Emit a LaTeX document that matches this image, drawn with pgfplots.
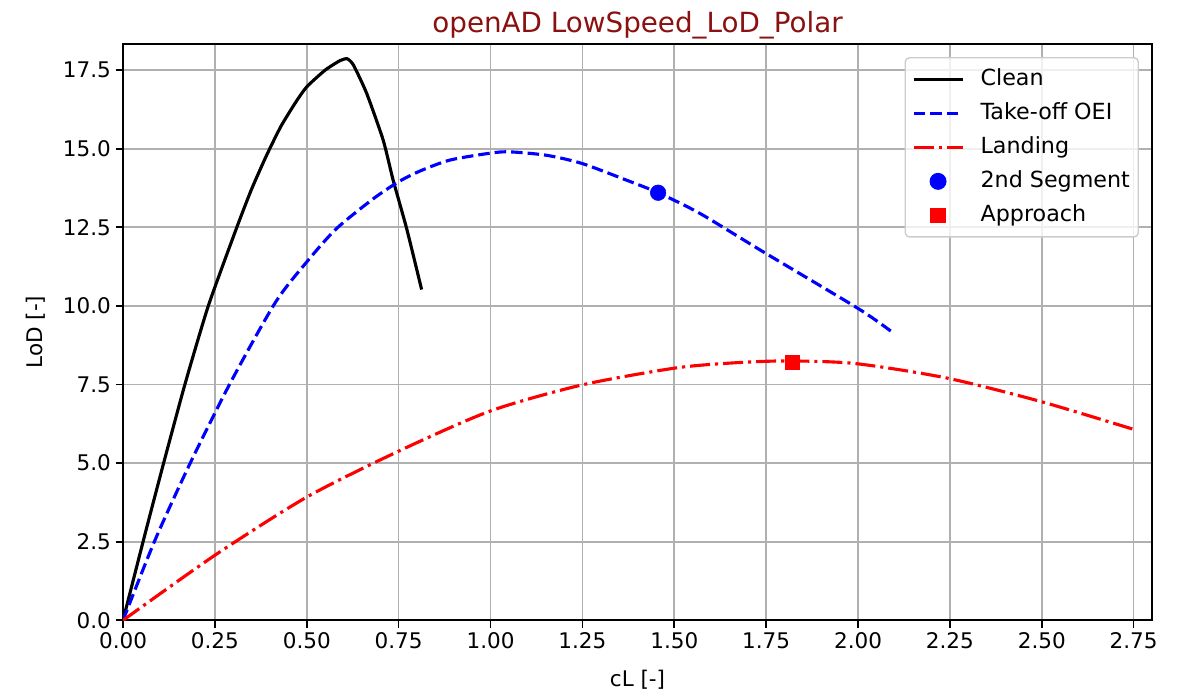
\documentclass[border=0pt]{standalone}
\usepackage{pgfplots}
\pgfplotsset{compat=1.18}
\usepackage{fontspec}
\setmainfont{DejaVu Sans}
\definecolor{ttl}{HTML}{8B1010}
\definecolor{gridc}{HTML}{B0B0B0}
\begin{document}
\begin{tikzpicture}
\begin{axis}[
  scale only axis,
  width=741pt, height=415pt,
  xmin=0, xmax=2.80, ymin=0, ymax=18.33,
  xtick={0,0.25,...,2.76}, ytick={0,2.5,...,17.6},
  xticklabel style={/pgf/number format/.cd,fixed,fixed zerofill,precision=2},
  yticklabel style={/pgf/number format/.cd,fixed,fixed zerofill,precision=1},
  /pgf/number format/assume math mode=true,
  tick label style={font=\fontsize{15.5}{18}\selectfont},
  label style={font=\fontsize{15.5}{18}\selectfont},
  tick align=outside, major tick length=5.25pt,
  xtick pos=lower, ytick pos=left,
  axis line style={line width=1.2pt},
  every tick/.style={black, line width=1.2pt},
  grid=major, major grid style={gridc, line width=1.2pt},
  title={openAD LowSpeed\_LoD\_Polar},
  title style={font=\fontsize{20}{24}\selectfont, text=ttl, yshift=-6pt},
  xlabel={cL [-]}, ylabel={LoD [-]},
  xlabel shift=8.6pt, ylabel shift=5.8pt,
  legend cell align=left,
  legend style={at={(1,1)}, anchor=north east, xshift=-9.4pt, yshift=-9.4pt,
    draw=gray!40, line width=1pt, rounded corners=3pt,
    fill=white, fill opacity=0.8, text opacity=1, font=\fontsize{16}{19}\selectfont,
    row sep=6.5pt, column sep=11pt, inner xsep=5pt, inner ysep=6.5pt,
    nodes={inner sep=1pt, text height=12.2pt, text depth=3.8pt}},
  legend image code/.code={\draw[mark repeat=2,mark phase=2,opacity=1,fill opacity=1] plot coordinates {(0pt,0pt) (17.5pt,0pt) (35pt,0pt)};},
]
\addplot[black, line width=2.25pt, smooth, tension=0.35] coordinates {
(0,0) (0.06,2.75) (0.11,4.98) (0.169,7.53) (0.232,10.0) (0.309,12.48) (0.35,13.72)
(0.391,14.8) (0.43,15.72) (0.47,16.48) (0.50,16.97) (0.55,17.5) (0.59,17.8) (0.61,17.86) (0.627,17.66)
(0.663,16.76) (0.708,15.27) (0.735,14.0) (0.772,12.45) (0.8125,10.52)};
\addlegendentry{Clean}
\addplot[blue, line width=2.25pt, dash pattern=on 8.3pt off 3.6pt, smooth, tension=0.45] coordinates {
(0,0) (0.087,2.55) (0.182,4.98) (0.291,7.53) (0.414,10.1)
(0.50,11.4) (0.58,12.45) (0.68,13.4) (0.75,13.95) (0.81,14.3) (0.89,14.64)
(1.0,14.86) (1.053,14.9) (1.153,14.79) (1.249,14.53) (1.37,14.0) (1.456,13.6)
(1.57,12.94) (1.742,11.72) (2.0,9.92) (2.089,9.2)};
\addlegendentry{Take-off OEI}
\addplot[red, line width=2.25pt, dash pattern=on 14.4pt off 3.6pt on 2.25pt off 3.6pt, smooth, tension=0.45] coordinates {
(0,0) (0.25,2.07) (0.5,3.92) (0.75,5.38) (1.0,6.66) (1.25,7.49) (1.5,8.02)
(1.65,8.18) (1.8,8.25) (1.99,8.17) (2.24,7.71) (2.494,6.97) (2.748,6.08)};
\addlegendentry{Landing}
\addplot[only marks, mark=*, blue, mark size=5.6pt] coordinates {(1.456,13.6)};
\addlegendentry{2nd Segment}
\addplot[only marks, mark=square*, red, mark size=5pt] coordinates {(1.821,8.22)};
\addlegendentry{Approach}
\end{axis}
\path ([shift={(-88.6pt,-52.6pt)}]current axis.south west) rectangle ([shift={(22.3pt,31.7pt)}]current axis.north east);
\end{tikzpicture}
\end{document}
